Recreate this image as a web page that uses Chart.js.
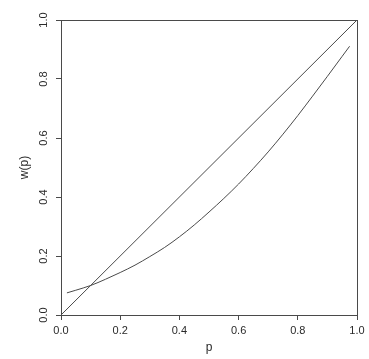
<!DOCTYPE html>
<html>
<head>
<meta charset="utf-8">
<script src="https://cdn.jsdelivr.net/npm/chart.js@4/dist/chart.umd.min.js"></script>
<style>
  html, body { margin: 0; padding: 0; background: #fff; }
  #wrap { width: 369px; height: 359px; }
</style>
</head>
<body>
<div id="wrap"><canvas id="myChart" width="369" height="359"></canvas></div>
<script>
// values
const pValues = [0.02, 0.05, 0.10, 0.15, 0.20, 0.25, 0.30, 0.35, 0.40, 0.45, 0.50,
	0.55, 0.60, 0.65, 0.70, 0.75, 0.80, 0.85, 0.90, 0.95, 0.975];
const wValues = [0.075, 0.084, 0.100, 0.121, 0.144, 0.169, 0.198, 0.229, 0.265, 0.305, 0.349,
	0.395, 0.444, 0.497, 0.553, 0.613, 0.676, 0.742, 0.809, 0.877, 0.911];

// the 45 degree line
const diagP = [0, 1];
const diagW = [0, 1];

const tickValues = [0, 0.2, 0.4, 0.6, 0.8, 1.0];

const FONT = '"Liberation Sans", Arial, Helvetica, sans-serif';
const LINE = '#4a4a4a';
const TEXT = '#2a2a2a';

const toPoints = (xs, ys) => xs.map((x, i) => ({x: x, y: ys[i]}));
const setTicks = (scale) => { scale.ticks = tickValues.map(v => ({value: v})); };

// box round the plot + y tick labels turned on their side (like R does)
const framePlugin = {
	id: 'frame',
	afterDraw(chart) {
		const {ctx, chartArea: a, scales} = chart;
		const y = scales.y;
		ctx.save();
		ctx.strokeStyle = LINE;
		ctx.lineWidth = 1;
		ctx.strokeRect(a.left + 0.5, a.top + 0.5, a.right - a.left, a.bottom - a.top);

		ctx.fillStyle = TEXT;
		ctx.font = '11px ' + FONT;
		ctx.textAlign = 'center';
		ctx.textBaseline = 'middle';
		y.ticks.forEach(t => {
			const py = y.getPixelForValue(t.value);
			ctx.save();
			ctx.translate(44, py);
			ctx.rotate(-Math.PI / 2);
			ctx.fillText(t.value.toFixed(1), 0, 0);
			ctx.restore();
		});
		ctx.restore();
	}
};

const config = {
	type: 'scatter',
	data: {
		datasets: [{
			label: 'diagonal',
			data: toPoints(diagP, diagW),
			showLine: true,
			borderColor: LINE,
			borderWidth: 1,
			pointRadius: 0
		}, {
			label: 'w(p)',
			data: toPoints(pValues, wValues),
			showLine: true,
			borderColor: LINE,
			borderWidth: 1,
			pointRadius: 0,
			cubicInterpolationMode: 'monotone'
		}]
	},
	options: {
		responsive: false,
		animation: false,
		events: [],
		layout: {padding: {top: 20, right: 12, left: 0, bottom: 0}},
		plugins: {
			legend: {display: false},
			tooltip: {enabled: false}
		},
		scales: {
			x: {
				type: 'linear',
				min: 0,
				max: 1,
				afterBuildTicks: setTicks,
				afterFit: (scale) => { scale.height = 44; },
				grid: {drawOnChartArea: false, drawTicks: true, tickLength: 5, color: LINE},
				border: {display: false},
				ticks: {
					color: TEXT,
					padding: 4,
					maxRotation: 0,
					font: {size: 11, family: FONT},
					callback: (v) => v.toFixed(1)
				},
				title: {
					display: true,
					text: 'p',
					color: TEXT,
					font: {size: 12, family: FONT},
					padding: {top: 0, bottom: 4}
				}
			},
			y: {
				type: 'linear',
				min: 0,
				max: 1,
				afterBuildTicks: setTicks,
				afterFit: (scale) => { scale.width = 61; },
				grid: {drawOnChartArea: false, drawTicks: true, tickLength: 5, color: LINE},
				border: {display: false},
				ticks: {display: false},
				title: {
					display: true,
					text: 'w(p)',
					color: TEXT,
					font: {size: 12, family: FONT},
					padding: {top: 17, bottom: 0}
				}
			}
		}
	},
	plugins: [framePlugin]
};

const chartt = new Chart(document.getElementById('myChart'), config);
</script>
</body>
</html>
